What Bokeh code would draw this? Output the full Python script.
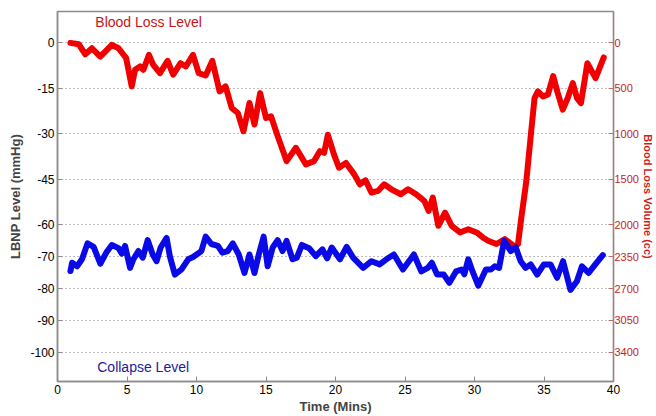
import numpy as np
from bokeh.plotting import figure
from bokeh.models import Range1d, LinearAxis, FixedTicker, Label
from bokeh.embed import file_html
from bokeh.resources import INLINE

# Blood loss volume (cc) vs time (min)
red_t = [0.93, 1.53, 2.0, 2.48, 3.08, 3.91, 4.39, 4.94, 5.34, 5.58, 5.94, 6.18, 6.58, 6.89,
         7.37, 7.92, 8.32, 8.85, 9.23, 9.75, 10.16, 10.66, 11.14, 11.66, 12.09, 12.54, 12.97,
         13.38, 13.81, 14.17, 14.58, 15.0, 15.36, 15.84, 16.48, 17.15, 17.87, 18.46, 18.87,
         19.18, 19.45, 19.9, 20.25, 20.75, 21.35, 21.75, 22.16, 22.59, 23.06, 23.5, 24.02,
         24.7, 25.22, 25.8, 26.1, 26.4, 26.7, 27.0, 27.4, 27.88, 28.36, 28.96, 29.55, 30.15,
         30.6, 30.98, 31.58, 32.18, 32.9, 33.13, 33.37, 33.73, 34.08, 34.32, 34.56, 34.92,
         35.28, 35.66, 35.99, 36.35, 36.71, 37.07, 37.37, 37.66, 38.12, 38.71, 39.3]
red_cc = [0, 15, 125, 59, 150, 22, 59, 168, 478, 295, 259, 295, 131, 241,
          332, 197, 350, 223, 259, 131, 332, 358, 197, 533, 478, 716, 770,
          971, 661, 897, 552, 825, 807, 1025, 1299, 1153, 1335, 1299, 1190,
          1208, 1010, 1230, 1372, 1320, 1445, 1554, 1510, 1646, 1627, 1554, 1609,
          1663, 1609, 1663, 1700, 1740, 1846, 1700, 2010, 1865, 2010, 2083, 2047, 2083,
          2138, 2174, 2210, 2156, 2240, 2210, 1920, 1518, 971, 606, 533, 588,
          569, 365, 552, 733, 606, 442, 606, 661, 223, 387, 160]

# LBNP level (mmHg) vs time (min)
blue_t = [0.93, 1.05, 1.41, 1.76, 2.16, 2.6, 3.08, 3.51, 3.91, 4.39, 4.63, 4.86, 5.22, 5.46,
          5.82, 6.13, 6.49, 6.85, 7.13, 7.42, 7.85, 8.08, 8.44, 8.92, 9.4, 9.75, 10.11, 10.35,
          10.66, 11.07, 11.54, 11.86, 12.25, 12.61, 13.04, 13.45, 13.81, 14.17, 14.48, 14.83,
          15.12, 15.48, 15.84, 16.19, 16.48, 16.91, 17.22, 17.58, 18.1, 18.58, 19.06, 19.4,
          19.73, 20.32, 20.8, 21.27, 21.99, 22.59, 23.18, 23.66, 24.2, 24.85, 25.64, 26.17,
          26.64, 26.93, 27.31, 27.79, 28.19, 28.67, 29.07, 29.27, 29.55, 29.86, 30.27, 30.82,
          31.18, 31.46, 31.77, 32.13, 32.61, 32.97, 33.32, 33.68, 34.04, 34.51, 34.99, 35.47,
          35.94, 36.37, 36.9, 37.37, 37.73, 38.21, 38.69, 39.23]
blue_lbnp = [-74.5, -71.9, -73.0, -70.8, -65.8, -66.9, -72.2, -68.7, -66.3, -67.3, -69.0, -66.6,
             -73.5, -70.8, -68.2, -70.3, -64.8, -69.3, -71.4, -67.1, -64.1, -69.8, -75.6, -74.0,
             -70.8, -70.1, -69.0, -68.2, -63.7, -66.0, -66.6, -68.7, -68.2, -65.8, -69.3, -75.1,
             -69.3, -75.1, -69.3, -63.7, -73.0, -67.1, -64.8, -68.2, -65.0, -70.8, -70.3, -66.3,
             -67.3, -69.8, -67.7, -70.5, -67.1, -70.8, -66.9, -70.3, -73.5, -71.4, -72.4, -70.8,
             -69.3, -74.0, -69.3, -74.6, -73.5, -71.9, -75.6, -75.6, -78.2, -74.6, -74.0, -75.5,
             -70.8, -74.6, -79.1, -74.0, -74.0, -73.0, -73.5, -65.0, -68.2, -67.1, -71.4, -73.5,
             -72.4, -75.6, -72.4, -72.4, -76.6, -71.4, -80.4, -77.7, -73.0, -75.1, -72.4, -69.5]

# Axis tick values
volume_ticks = [0, 500, 1000, 1500, 2000, 2350, 2700, 3050, 3400]
lbnp_ticks = [0, -15, -30, -45, -60, -70, -80, -90, -100]
time_ticks = [0, 5, 10, 15, 20, 25, 30, 35, 40]

FONT = "Liberation Sans"
GREY = "#8c8c8c"

# LBNP axis shares the plot with the volume axis: map LBNP onto volume positions
blue_pos = np.interp(blue_lbnp, lbnp_ticks[::-1], volume_ticks[::-1])

p = figure(width=656, height=416, x_range=Range1d(0, 40), y_range=Range1d(3721, -345),
           output_backend="svg", toolbar_location=None,
           min_border_left=57, min_border_right=40, min_border_top=11, min_border_bottom=33)
p.background_fill_color = "white"
p.border_fill_color = "white"
p.outline_line_color = GREY
p.outline_line_width = 1.5

p.xgrid.visible = False
p.ygrid.ticker = FixedTicker(ticks=volume_ticks)
p.ygrid.grid_line_color = "#7a7a7a"
p.ygrid.grid_line_dash = "1 3"
p.ygrid.grid_line_width = 1

# x axis
xa = p.xaxis[0]
xa.ticker = FixedTicker(ticks=time_ticks)
xa.axis_label = "Time (Mins)"
xa.axis_label_text_font = FONT
xa.axis_label_text_font_style = "bold"
xa.axis_label_text_font_size = "13px"
xa.axis_label_standoff = 2
xa.major_label_text_font = FONT
xa.major_label_text_font_size = "12px"
xa.major_label_text_color = "black"
xa.major_label_standoff = 3
xa.axis_line_color = GREY
xa.axis_line_width = 1.5
xa.major_tick_in = 5
xa.major_tick_out = 0
xa.major_tick_line_color = GREY
xa.minor_tick_line_color = None

# left axis (LBNP)
ya = p.yaxis[0]
ya.ticker = FixedTicker(ticks=volume_ticks)
ya.major_label_overrides = {v: str(l) for v, l in zip(volume_ticks, lbnp_ticks)}
ya.axis_label = "LBNP Level (mmHg)"
ya.axis_label_text_font = FONT
ya.axis_label_text_font_style = "bold"
ya.axis_label_text_font_size = "13px"
ya.axis_label_standoff = 4
ya.major_label_text_font = FONT
ya.major_label_text_font_size = "12px"
ya.major_label_text_color = "black"
ya.major_label_standoff = 3
ya.axis_line_color = GREY
ya.axis_line_width = 1.5
ya.major_tick_in = 5
ya.major_tick_out = 0
ya.major_tick_line_color = GREY
ya.minor_tick_line_color = None

# right axis (blood loss volume)
ra = LinearAxis(ticker=FixedTicker(ticks=volume_ticks))
ra.axis_label = "Blood Loss Volume (cc)"
ra.axis_label_text_font = FONT
ra.axis_label_text_font_style = "bold"
ra.axis_label_text_font_size = "11px"
ra.axis_label_text_color = "#d41c1c"
ra.axis_label_standoff = 0
ra.major_label_text_font = FONT
ra.major_label_text_font_size = "11px"
ra.major_label_text_color = "#c41e1e"
ra.major_label_standoff = 1
ra.axis_line_color = "#c07070"
ra.axis_line_width = 1.2
ra.major_tick_in = 5
ra.major_tick_out = 0
ra.major_tick_line_color = "#c07070"
ra.minor_tick_line_color = None
p.add_layout(ra, "right")

p.line(red_t, red_cc, line_color="#f00000", line_width=6, line_join="round", line_cap="round")
p.line(blue_t, blue_pos, line_color="#0a0ae6", line_width=6, line_join="round", line_cap="round")

p.add_layout(Label(x=2.72, y=-235, text="Blood Loss Level", text_font=FONT, text_font_size="14px",
                   text_color="#c81414", text_align="left", text_baseline="middle"))
p.add_layout(Label(x=2.86, y=3563, text="Collapse Level", text_font=FONT, text_font_size="14px",
                   text_color="#1c1c9c", text_align="left", text_baseline="middle"))

open("out.html", "w").write(file_html(p, INLINE))
